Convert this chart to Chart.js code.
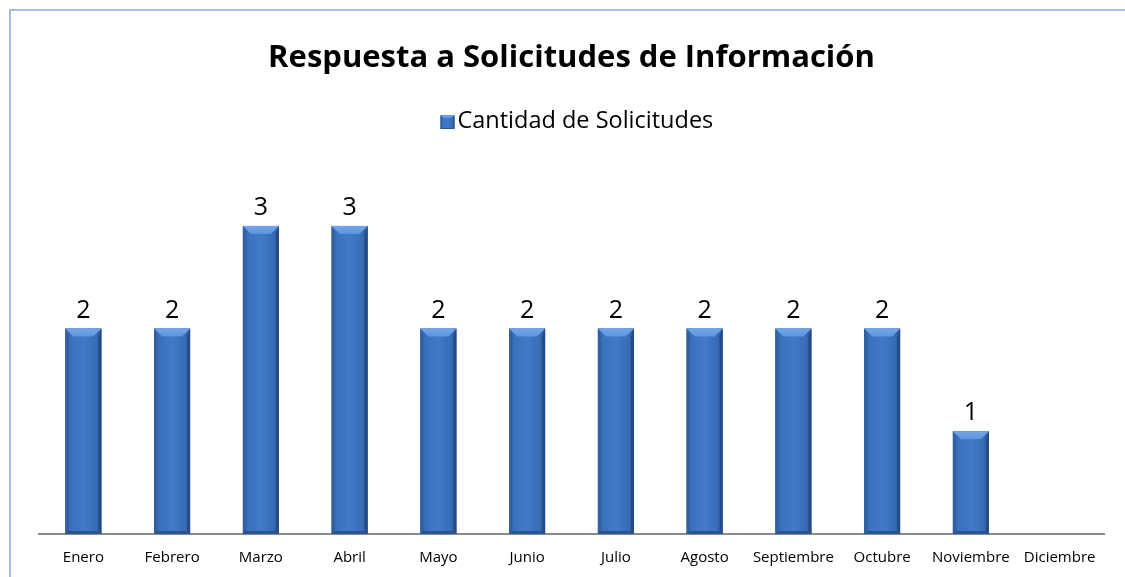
<!DOCTYPE html>
<html>
<head>
<meta charset="utf-8">
<script src="https://cdn.jsdelivr.net/npm/chart.js@4.4.0/dist/chart.umd.min.js"></script>
<style>
  html, body { margin: 0; padding: 0; background: #ffffff; overflow: hidden; }
  #wrap { position: relative; width: 1125px; height: 577px; }
  #frame { position: absolute; left: 9px; top: 9px; width: 3000px; height: 3000px;
           border-top: 2px solid #a3bde8; border-left: 2px solid #a3bde8; }
  canvas { position: absolute; left: 0; top: 0; }
</style>
</head>
<body>
<div id="wrap">
  <div id="frame"></div>
  <canvas id="c" width="1125" height="577"></canvas>
</div>
<script>
const titleText = 'Respuesta a Solicitudes de Información';
const seriesName = 'Cantidad de Solicitudes';
const categories = ['Enero', 'Febrero', 'Marzo', 'Abril', 'Mayo', 'Junio', 'Julio', 'Agosto', 'Septiembre', 'Octubre', 'Noviembre', 'Diciembre'];
const values = [2, 2, 3, 3, 2, 2, 2, 2, 2, 2, 1, null];

const FONT = '"Open Sans", Lato, sans-serif';
const LEGEND_FONT_SIZE = 23.5;
const LEGEND_BOX_W = 16;

function bevelBar(ctx, left, top, right, bottom, small) {
  const w = right - left, h = bottom - top;
  if (h <= 0) return;
  const b = small ? 3 : Math.min(8, w / 4, h / 2);
  const s = small ? 1 : 3;
  const g = ctx.createLinearGradient(left, 0, right, 0);
  g.addColorStop(0, '#2e5fa5');
  g.addColorStop(0.15, '#3a71bd');
  g.addColorStop(0.5, '#407ac8');
  g.addColorStop(0.85, '#386db6');
  g.addColorStop(1, '#2a5596');
  ctx.fillStyle = g;
  ctx.fillRect(left, top, w, h);
  ctx.beginPath();
  ctx.moveTo(left, top); ctx.lineTo(left + s, top + b); ctx.lineTo(left + s, bottom - s); ctx.lineTo(left, bottom);
  ctx.closePath(); ctx.fillStyle = '#325f9e'; ctx.fill();
  ctx.beginPath();
  ctx.moveTo(right, top); ctx.lineTo(right - s, top + b); ctx.lineTo(right - s, bottom - s); ctx.lineTo(right, bottom);
  ctx.closePath(); ctx.fillStyle = '#254c85'; ctx.fill();
  ctx.beginPath();
  ctx.moveTo(left, bottom); ctx.lineTo(left + s, bottom - s); ctx.lineTo(right - s, bottom - s); ctx.lineTo(right, bottom);
  ctx.closePath(); ctx.fillStyle = '#2a5391'; ctx.fill();
  const gt = ctx.createLinearGradient(0, top, 0, top + b);
  gt.addColorStop(0, '#72a7e8');
  gt.addColorStop(1, '#5c93dc');
  ctx.beginPath();
  ctx.moveTo(left, top); ctx.lineTo(right, top); ctx.lineTo(right - b, top + b); ctx.lineTo(left + b, top + b);
  ctx.closePath(); ctx.fillStyle = gt; ctx.fill();
}

const bevelPlugin = {
  id: 'bevel',
  afterDatasetsDraw(chart) {
    const ctx = chart.ctx;
    const meta = chart.getDatasetMeta(0);
    ctx.save();
    meta.data.forEach((el, i) => {
      if (values[i] === null || values[i] === undefined) return;
      const p = el.getProps(['x', 'y', 'base', 'width'], true);
      bevelBar(ctx, p.x - p.width / 2, p.y, p.x + p.width / 2, p.base, false);
      ctx.fillStyle = '#000000';
      ctx.font = '25px ' + FONT;
      ctx.textAlign = 'center';
      ctx.textBaseline = 'alphabetic';
      ctx.fillText(String(values[i]), p.x, p.y - 11);
    });
    ctx.restore();
  }
};

const legendBoxPlugin = {
  id: 'legendBox',
  afterDraw(chart) {
    const lg = chart.legend;
    if (!lg || !lg.legendHitBoxes || !lg.legendHitBoxes.length) return;
    const hb = lg.legendHitBoxes[0];
    const ctx = chart.ctx;
    const s = 14;
    const textX = hb.left + LEGEND_BOX_W + LEGEND_FONT_SIZE / 2;
    const x = textX - 17, y = hb.top + (hb.height - s) / 2 + 1;
    ctx.save();
    bevelBar(ctx, x, y, x + s, y + s, true);
    ctx.restore();
  }
};

new Chart(document.getElementById('c'), {
  type: 'bar',
  data: {
    labels: categories,
    datasets: [{
      label: seriesName,
      data: values,
      backgroundColor: '#3d73bd',
      borderWidth: 0,
      barPercentage: 0.405,
      categoryPercentage: 1.0
    }]
  },
  options: {
    responsive: false,
    animation: false,
    devicePixelRatio: 1,
    layout: { padding: { left: 39, right: 21, top: 0, bottom: -5 } },
    scales: {
      x: {
        grid: { display: false, drawTicks: false },
        border: { display: true, color: '#8c8c8c', width: 2 },
        ticks: { color: '#000000', font: { family: FONT, size: 15 }, padding: 15, maxRotation: 0, autoSkip: false }
      },
      y: {
        display: false,
        min: 0,
        max: 3.81
      }
    },
    plugins: {
      title: {
        display: true,
        text: titleText,
        color: '#000000',
        font: { family: FONT, size: 31, weight: 'bold' },
        padding: { top: 40, bottom: 22 }
      },
      legend: {
        display: true,
        position: 'top',
        labels: {
          color: '#000000',
          font: { family: FONT, size: LEGEND_FONT_SIZE },
          boxWidth: LEGEND_BOX_W,
          boxHeight: 14,
          padding: 10,
          generateLabels(chart) {
            return [{
              text: seriesName,
              fillStyle: 'rgba(0,0,0,0)',
              strokeStyle: 'rgba(0,0,0,0)',
              lineWidth: 0,
              hidden: false,
              datasetIndex: 0
            }];
          }
        }
      },
      tooltip: { enabled: false }
    }
  },
  plugins: [bevelPlugin, legendBoxPlugin]
});
</script>
</body>
</html>
